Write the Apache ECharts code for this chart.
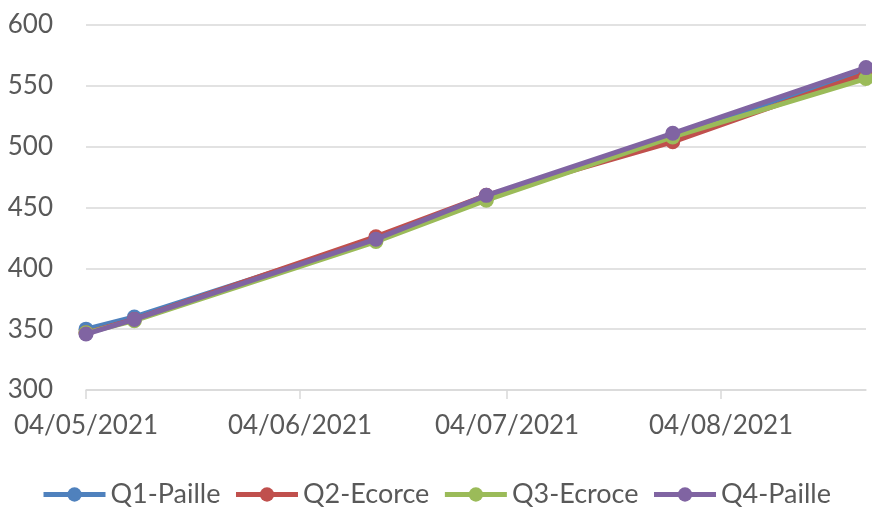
<!DOCTYPE html>
<html>
<head>
<meta charset="utf-8">
<script src="https://cdn.jsdelivr.net/npm/echarts@6/dist/echarts.min.js"></script>
<style>html,body{margin:0;padding:0;background:#fff}#c{width:872px;height:507px}</style>
</head>
<body>
<div id="c"></div>
<script>
const dates = ['2021-05-04', '2021-05-11', '2021-06-15', '2021-07-01', '2021-07-28', '2021-08-25'];
const tickDates = ['2021-05-04', '2021-06-04', '2021-07-04', '2021-08-04'];
const seriesNames = ['Q1-Paille', 'Q2-Ecorce', 'Q3-Ecroce', 'Q4-Paille'];
const q1 = [350, 360, 424, 459, 509, 563];
const q2 = [347, 358, 426, 460, 504, 560];
const q3 = [347, 357, 422, 456, 508, 556];
const q4 = [346, 358, 424, 460, 511, 565];
const colors = ['#4F81BD', '#C0504D', '#9BBB59', '#8064A2'];

function ts(s){ const p = s.split('-').map(Number); return Date.UTC(p[0], p[1]-1, p[2]); }
function fmt(v){ const d = new Date(v); const dd = String(d.getUTCDate()).padStart(2,'0'); const mm = String(d.getUTCMonth()+1).padStart(2,'0'); return dd + '/' + mm + '/' + d.getUTCFullYear(); }

const xs = dates.map(ts);
const ticks = tickDates.map(ts);
const all = [q1, q2, q3, q4];
const font = 'Lato';
const fs = 26;
const chart = echarts.init(document.getElementById('c'), null, {renderer: 'canvas'});
chart.setOption({
  animation: false,
  color: colors,
  textStyle: {fontFamily: font},
  grid: {left: 86, right: 6, top: 25, bottom: 117, containLabel: false},
  legend: {
    top: 476, left: 'center', itemWidth: 62, itemHeight: 18, itemGap: 13,
    lineStyle: {width: 5},
    textStyle: {fontSize: 27, color: '#595959', fontFamily: font},
    data: seriesNames
  },
  xAxis: {
    type: 'value', min: xs[0], max: xs[xs.length-1],
    splitLine: {show: false},
    axisLine: {show: true, lineStyle: {color: '#d9d9d9', width: 1.5}},
    axisTick: {show: true, customValues: ticks, length: 9, lineStyle: {color: '#d9d9d9', width: 1.5}},
    axisLabel: {customValues: ticks, formatter: fmt, fontSize: fs, color: '#595959', margin: 23, fontFamily: font}
  },
  yAxis: {
    type: 'value', min: 300, max: 600, interval: 50,
    axisLine: {show: false}, axisTick: {show: false},
    splitLine: {lineStyle: {color: '#d9d9d9', width: 1.5}},
    axisLabel: {fontSize: fs, color: '#595959', margin: 33, fontFamily: font}
  },
  series: seriesNames.map((n, i) => ({
    name: n, type: 'line', data: xs.map((x, j) => [x, all[i][j]]),
    symbol: 'circle', symbolSize: 15, showSymbol: true,
    lineStyle: {width: 5, color: colors[i]}, itemStyle: {color: colors[i]}, z: 2 + i
  }))
});
</script>
</body>
</html>
